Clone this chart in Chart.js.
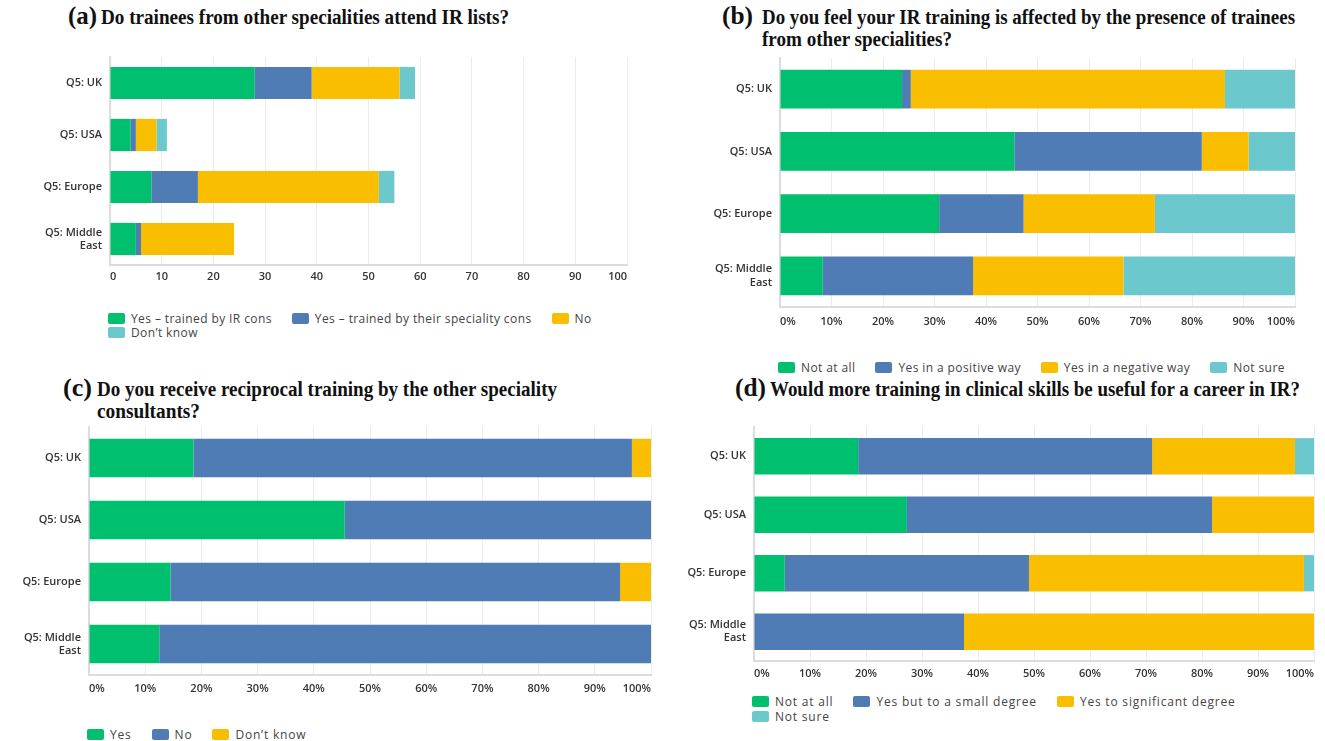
<!DOCTYPE html>
<html>
<head>
<meta charset="utf-8">
<script src="https://cdn.jsdelivr.net/npm/chart.js@4.4.0/dist/chart.umd.min.js"></script>
<style>
  body { margin: 0; background: #fff; width: 1325px; height: 741px; overflow: hidden; position: relative; }
  .box { position: absolute; }
  .ttl { position: absolute; white-space: nowrap; font-family: "Liberation Serif", "Times New Roman", serif; color: #111; transform-origin: 0 0; font-weight: bold; }
  .tl { font-size: 25px; line-height: 25px; }
  .tt { font-size: 20px; line-height: 20px; }
  .lg { position: absolute; display: flex; flex-wrap: wrap; column-gap: 20px; font-family: "Open Sans", sans-serif; font-size: 12px; letter-spacing: 0.4px; color: #444; }
  .lg .i { display: flex; align-items: center; height: 12px; white-space: nowrap; }
  .lg .i b { display: inline-block; width: 17px; height: 11px; border-radius: 2px; margin-right: 6px; }
</style>
</head>
<body>

<div class="ttl tl" style="left:68px;top:3px" data-w="29">(a)</div>
<div class="ttl tt" style="left:101px;top:7px" data-w="408">Do trainees from other specialities attend IR lists?</div>

<div class="ttl tl" style="left:722px;top:3px" data-w="31">(b)</div>
<div class="ttl tt" style="left:762px;top:7px" data-w="533">Do you feel your IR training is affected by the presence of trainees</div>
<div class="ttl tt" style="left:762px;top:29px" data-w="190">from other specialities?</div>

<div class="ttl tl" style="left:63px;top:375px" data-w="29">(c)</div>
<div class="ttl tt" style="left:97px;top:379px" data-w="460">Do you receive reciprocal training by the other speciality</div>
<div class="ttl tt" style="left:97px;top:401px" data-w="103">consultants?</div>

<div class="ttl tl" style="left:735px;top:375px" data-w="31">(d)</div>
<div class="ttl tt" style="left:770px;top:379px" data-w="530">Would more training in clinical skills be useful for a career in IR?</div>

<div class="box" style="left:0px;top:50px"><canvas id="cA" width="645" height="237"></canvas></div>
<div class="box" style="left:660px;top:50px"><canvas id="cB" width="650" height="279"></canvas></div>
<div class="box" style="left:0px;top:420px"><canvas id="cC" width="665" height="277"></canvas></div>
<div class="box" style="left:665px;top:420px"><canvas id="cD" width="660" height="263"></canvas></div>

<script>
// categories
const regions = ['Q5: UK', 'Q5: USA', 'Q5: Europe', ['Q5: Middle', 'East']];

const green = '#00bf6f', blue = '#507cb6', yellow = '#f9be00', teal = '#6bc8cd';

// (a) counts of respondents
const aNames = ['Yes \u2013 trained by IR cons', 'Yes \u2013 trained by their speciality cons', 'No', 'Don\u2019t know'];
const aIrCons = [28, 4, 8, 5];
const aSpecCons = [11, 1, 9, 1];
const aNo = [17, 4, 35, 18];
const aDontKnow = [3, 2, 3, 0];

// (b) percentages
const bNames = ['Not at all', 'Yes in a positive way', 'Yes in a negative way', 'Not sure'];
const bNotAtAll = [23.7, 45.5, 30.9, 8.3];
const bPositive = [1.7, 36.4, 16.4, 29.2];
const bNegative = [61.0, 9.1, 25.5, 29.2];
const bNotSure = [13.6, 9.0, 27.2, 33.3];

// (c) percentages
const cNames = ['Yes', 'No', 'Don\u2019t know'];
const cYes = [18.6, 45.5, 14.5, 12.5];
const cNo = [78.0, 54.5, 80.0, 87.5];
const cDontKnow = [3.4, 0, 5.5, 0];

// (d) percentages
const dNames = ['Not at all', 'Yes but to a small degree', 'Yes to significant degree', 'Not sure'];
const dNotAtAll = [18.6, 27.3, 5.5, 0];
const dSmall = [52.5, 54.5, 43.6, 37.5];
const dSignificant = [25.5, 18.2, 49.1, 62.5];
const dNotSure = [3.4, 0, 1.8, 0];

// x axis ticks
const tickMax = 100, tickStep = 10;

const tickFont = { family: 'Open Sans', size: 11, weight: '600' };

function panel(id, names, series, colors, o) {
  const chart = new Chart(document.getElementById(id), {
    type: 'bar',
    data: {
      labels: regions,
      datasets: series.map((d, i) => ({
        label: names[i],
        data: d,
        backgroundColor: colors[i],
        borderWidth: 0,
        barPercentage: 0.62,
        categoryPercentage: 1
      }))
    },
    options: {
      indexAxis: 'y',
      responsive: false,
      animation: false,
      layout: { padding: { top: o.top, right: o.right, left: 0, bottom: 0 } },
      plugins: { legend: { display: false }, tooltip: { enabled: false } },
      scales: {
        x: {
          stacked: true, min: 0, max: tickMax,
          ticks: { stepSize: tickStep, align: 'inner', padding: o.tp, color: '#333', font: tickFont,
                   maxRotation: 0, autoSkip: false, callback: v => v + o.unit },
          grid: { color: '#ececec', drawTicks: false },
          border: { color: '#dcdcdc', width: 2 },
          afterFit: s => { s.height = 22; s.paddingLeft = 0; s.paddingRight = 0; }
        },
        y: {
          stacked: true,
          ticks: { padding: 8, color: '#333', font: tickFont },
          grid: { display: false, drawTicks: false },
          border: { color: '#dcdcdc', width: 2 },
          afterFit: s => { s.width = o.yw; s.paddingTop = 0; s.paddingBottom = 0; }
        }
      }
    }
  });

  // html legend under the chart
  const lg = document.createElement('div');
  lg.className = 'lg';
  lg.style.left = (o.x + chart.chartArea.left - 2) + 'px';
  lg.style.top = o.lt + 'px';
  lg.style.width = (chart.chartArea.right - chart.chartArea.left + 4) + 'px';
  lg.style.rowGap = o.rg + 'px';
  lg.style.letterSpacing = o.ls + 'px';
  chart.data.datasets.forEach(ds => {
    const it = document.createElement('span');
    it.className = 'i';
    const sw = document.createElement('b');
    sw.style.background = ds.backgroundColor;
    it.appendChild(sw);
    it.appendChild(document.createTextNode(ds.label));
    lg.appendChild(it);
  });
  document.body.appendChild(lg);
  return chart;
}

panel('cA', aNames, [aIrCons, aSpecCons, aNo, aDontKnow], [green, blue, yellow, teal],
      { x: 0, top: 7, right: 18, yw: 110, tp: 5, unit: '', lt: 312, rg: 2, ls: 0.4 });
panel('cB', bNames, [bNotAtAll, bPositive, bNegative, bNotSure], [green, blue, yellow, teal],
      { x: 660, top: 8, right: 15, yw: 120, tp: 8, unit: '%', lt: 361, rg: 2, ls: 0.4 });
panel('cC', cNames, [cYes, cNo, cDontKnow], [green, blue, yellow],
      { x: 0, top: 7, right: 14, yw: 89, tp: 7, unit: '%', lt: 728, rg: 2, ls: 0.8 });
panel('cD', dNames, [dNotAtAll, dSmall, dSignificant, dNotSure], [green, blue, yellow, teal],
      { x: 665, top: 7, right: 11, yw: 89, tp: 6, unit: '%', lt: 695, rg: 3, ls: 0.8 });

// squeeze titles to the width they take in the figure
document.querySelectorAll('.ttl').forEach(el => {
  const r = (+el.dataset.w) / el.getBoundingClientRect().width;
  el.style.transform = 'scaleX(' + r + ')';
});
</script>
</body>
</html>
